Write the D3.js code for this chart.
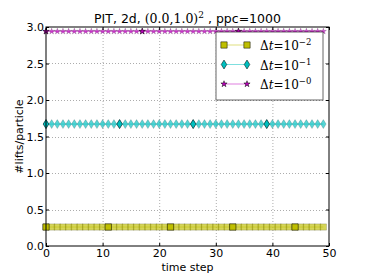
<!DOCTYPE html>
<html>
<head>
<meta charset="utf-8">
<script src="https://cdn.jsdelivr.net/npm/d3@7"></script>
<style>
  body { margin: 0; background: #fff; }
  text { font-family: "DejaVu Sans", sans-serif; fill: #000; }
  .math { font-family: "DejaVu Serif", serif; }
</style>
</head>
<body>
<div id="chart"></div>
<script>
'use strict';

// time step categories
const timeSteps = [0,1,2,3,4,5,6,7,8,9,10,11,12,13,14,15,16,17,18,19,20,21,22,23,24,
    25,26,27,28,29,30,31,32,33,34,35,36,37,38,39,40,41,42,43,44,45,46,47,48,49];

// #lifts/particle, one value per time step
const liftsDt2 = [0.26,0.26,0.26,0.26,0.26,0.26,0.26,0.26,0.26,0.26,0.26,0.26,0.26,0.26,0.26,0.26,0.26,
    0.26,0.26,0.26,0.26,0.26,0.26,0.26,0.26,0.26,0.26,0.26,0.26,0.26,0.26,0.26,0.26,0.26,0.26,0.26,0.26,
    0.26,0.26,0.26,0.26,0.26,0.26,0.26,0.26,0.26,0.26,0.26,0.26,0.26];
const liftsDt1 = [1.67,1.67,1.67,1.67,1.67,1.67,1.67,1.67,1.67,1.67,1.67,1.67,1.67,1.67,1.67,1.67,1.67,
    1.67,1.67,1.67,1.67,1.67,1.67,1.67,1.67,1.67,1.67,1.67,1.67,1.67,1.67,1.67,1.67,1.67,1.67,1.67,1.67,
    1.67,1.67,1.67,1.67,1.67,1.67,1.67,1.67,1.67,1.67,1.67,1.67,1.67];
const liftsDt0 = [2.94,2.94,2.94,2.94,2.94,2.94,2.94,2.94,2.94,2.94,2.94,2.94,2.94,2.94,2.94,2.94,2.94,
    2.94,2.94,2.94,2.94,2.94,2.94,2.94,2.94,2.94,2.94,2.94,2.94,2.94,2.94,2.94,2.94,2.94,2.94,2.94,2.94,
    2.94,2.94,2.94,2.94,2.94,2.94,2.94,2.94,2.94,2.94,2.94,2.94,2.94];

// steps where the solid marker is drawn
const markDt2 = [0, 11, 22, 33, 44];
const markDt1 = [0, 13, 26, 39];
const markDt0 = [0, 17, 34];

const xTicks = [0, 10, 20, 30, 40, 50];
const yTicks = [0.0, 0.5, 1.0, 1.5, 2.0, 2.5, 3.0];
const legendExps = ['\u22122', '\u22121', '\u22120'];

const width = 366, height = 274;
const margin = {top: 27, right: 37, bottom: 28, left: 46};

const svg = d3.select('#chart').append('svg')
    .attr('width', width)
    .attr('height', height);

const x = d3.scaleLinear().domain([0, 50]).range([margin.left, width - margin.right]);
const y = d3.scaleLinear().domain([0, 3]).range([height - margin.bottom, margin.top]);

// grid
const grid = svg.append('g')
    .attr('stroke', '#000')
    .attr('stroke-opacity', 0.55)
    .attr('stroke-width', 0.6)
    .attr('stroke-dasharray', '1,2');
grid.selectAll('.gx').data(xTicks.slice(1, -1)).enter().append('line')
    .attr('x1', d => x(d) + 0.5).attr('x2', d => x(d) + 0.5)
    .attr('y1', y(0)).attr('y2', y(3));
grid.selectAll('.gy').data(yTicks.slice(1, -1)).enter().append('line')
    .attr('x1', x(0)).attr('x2', x(50))
    .attr('y1', d => Math.round(y(d)) + 0.5).attr('y2', d => Math.round(y(d)) + 0.5);

const thinDiamond = d3.line()([[0, -4.5], [2.8, 0], [0, 4.5], [-2.8, 0]]) + 'Z';

const series = [
    {values: liftsDt2, marks: markDt2, color: '#bfbf00', shape: d3.symbol(d3.symbolSquare, 40)()},
    {values: liftsDt1, marks: markDt1, color: '#00bfbf', shape: thinDiamond},
    {values: liftsDt0, marks: markDt0, color: '#bf00bf', shape: d3.symbol(d3.symbolStar, 12)()}
];

const line = d3.line()
    .x(d => x(d[0]))
    .y(d => y(d[1]));

const plot = svg.append('g');
series.forEach(function (s) {
    const pts = timeSteps.map((t, i) => [t, s.values[i]]);
    plot.append('path')
        .attr('d', line(pts))
        .attr('fill', 'none')
        .attr('stroke', s.color)
        .attr('stroke-opacity', 0.5)
        .attr('stroke-width', 1);
    plot.append('g').selectAll('path').data(pts).enter().append('path')
        .attr('d', s.shape)
        .attr('transform', d => 'translate(' + x(d[0]) + ',' + y(d[1]) + ')')
        .attr('fill', s.color)
        .attr('fill-opacity', 0.65)
        .attr('stroke', '#000')
        .attr('stroke-opacity', 0.3)
        .attr('stroke-width', 0.5);
    plot.append('g').selectAll('path').data(s.marks).enter().append('path')
        .attr('d', s.shape)
        .attr('transform', d => 'translate(' + x(d) + ',' + y(s.values[d]) + ')')
        .attr('fill', s.color)
        .attr('stroke', '#000')
        .attr('stroke-width', 0.5);
});

// frame
svg.append('rect')
    .attr('x', x(0)).attr('y', y(3))
    .attr('width', x(50) - x(0)).attr('height', y(0) - y(3))
    .attr('fill', 'none')
    .attr('stroke', '#000')
    .attr('stroke-width', 1);

// axes with inward ticks
const xAxis = svg.append('g')
    .attr('transform', 'translate(0,' + y(0) + ')')
    .call(d3.axisBottom(x).tickValues(xTicks).tickSize(-3).tickPadding(4).tickFormat(d3.format('d')));
const yAxis = svg.append('g')
    .attr('transform', 'translate(' + x(0) + ',0)')
    .call(d3.axisLeft(y).tickValues(yTicks).tickSize(-3).tickPadding(2).tickFormat(d3.format('.1f')));
svg.append('g')
    .attr('transform', 'translate(0,' + y(3) + ')')
    .call(d3.axisTop(x).tickValues(xTicks).tickSize(-3).tickFormat(''));
svg.append('g')
    .attr('transform', 'translate(' + x(50) + ',0)')
    .call(d3.axisRight(y).tickValues(yTicks).tickSize(-3).tickFormat(''));
svg.selectAll('.domain').remove();
svg.selectAll('.tick text')
    .attr('font-size', 11)
    .attr('font-family', '"DejaVu Sans", sans-serif');
xAxis.selectAll('.tick text').attr('dy', '0.6em');

// labels
svg.append('text')
    .attr('x', (x(0) + x(50)) / 2)
    .attr('y', 271)
    .attr('text-anchor', 'middle')
    .attr('font-size', 11)
    .text('time step');

svg.append('text')
    .attr('transform', 'translate(23,' + ((y(0) + y(3)) / 2) + ') rotate(-90)')
    .attr('text-anchor', 'middle')
    .attr('font-size', 11)
    .text('#lifts/particle');

const title = svg.append('text')
    .attr('x', (x(0) + x(50)) / 2)
    .attr('y', 23)
    .attr('text-anchor', 'middle')
    .attr('font-size', 12.5);
title.append('tspan').text('PIT, 2d, ');
title.append('tspan').attr('class', 'math').text('(0.0,1.0)');
title.append('tspan').attr('class', 'math').attr('font-size', 9).attr('dy', -5).text('2');
title.append('tspan').attr('dy', 5).text(' , ppc=1000');

// legend
const legend = svg.append('g').attr('transform', 'translate(216,32)');
legend.append('rect')
    .attr('width', 107).attr('height', 68)
    .attr('fill', '#fff')
    .attr('stroke', '#000')
    .attr('stroke-opacity', 0.6)
    .attr('stroke-width', 1);
series.forEach(function (s, i) {
    const row = legend.append('g').attr('transform', 'translate(0,' + (13 + i * 19.5) + ')');
    row.append('line')
        .attr('x1', 8).attr('x2', 31)
        .attr('stroke', s.color)
        .attr('stroke-opacity', 0.5)
        .attr('stroke-width', 1);
    [8, 31].forEach(function (px) {
        row.append('path')
            .attr('d', s.shape)
            .attr('transform', 'translate(' + px + ',0)')
            .attr('fill', s.color)
            .attr('stroke', '#000')
            .attr('stroke-width', 0.5);
    });
    const t = row.append('text')
        .attr('class', 'math')
        .attr('x', 44)
        .attr('y', 5)
        .attr('font-size', 12);
    t.append('tspan').text('\u0394');
    t.append('tspan').attr('font-style', 'italic').text('t');
    t.append('tspan').text('=10');
    t.append('tspan').attr('font-size', 8.5).attr('dy', -5).text(legendExps[i]);
});
</script>
</body>
</html>
